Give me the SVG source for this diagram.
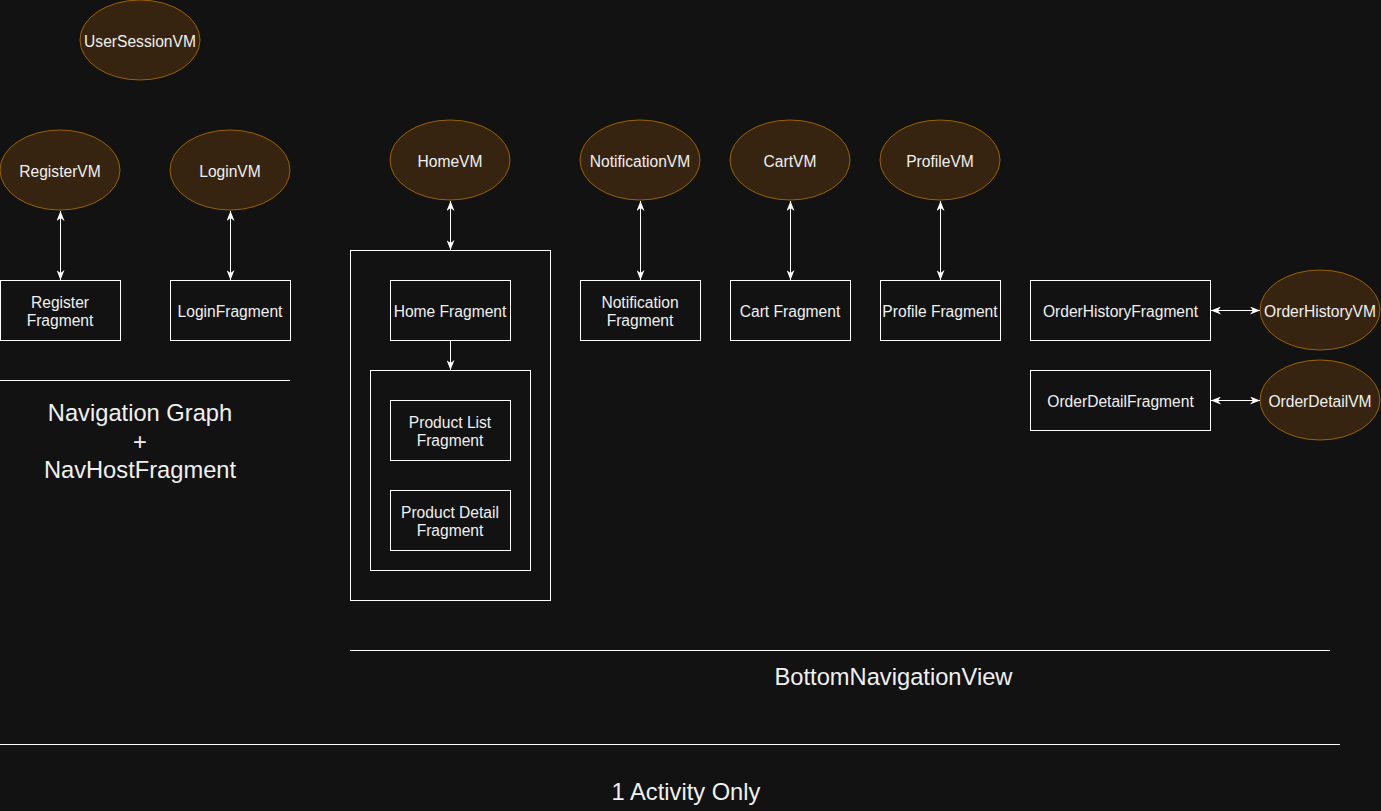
<svg xmlns="http://www.w3.org/2000/svg" width="1381" height="811" viewBox="0 0 1381 811">
<style>
.vm{fill:#362410;stroke:#9a6200;stroke-width:1}
.box{fill:#121212;stroke:#ffffff;stroke-width:1}
.t{font-family:"Liberation Sans",Arial,sans-serif;font-size:15.6px;fill:#f0f0f0;text-anchor:middle}
.big{font-family:"Liberation Sans",Arial,sans-serif;font-size:23.7px;fill:#f0f0f0;text-anchor:middle}
.sep{stroke:#ffffff;stroke-width:1}
.c{stroke:#ffffff;stroke-width:1;fill:none}
</style>
<defs>
<marker id="arr" viewBox="0 0 10 8" refX="10" refY="4" markerWidth="10" markerHeight="8" markerUnits="userSpaceOnUse" orient="auto-start-reverse">
<path d="M0,0 L10,4 L0,8 L3,4 z" fill="#ffffff"/>
</marker>
</defs>
<rect x="0" y="0" width="1381" height="811" fill="#121212"/>

<g id="containers">
<rect id="homeOuter" class="box" x="350.5" y="250.5" width="200" height="350"/>
<rect id="homeInner" class="box" x="370.5" y="370.5" width="160" height="200"/>
</g>

<g id="n-usersession"><ellipse class="vm" cx="140" cy="40" rx="60" ry="40"/><text class="t" x="140" y="47">UserSessionVM</text></g>
<g id="n-registervm"><ellipse class="vm" cx="60" cy="170" rx="60" ry="40"/><text class="t" x="60" y="177">RegisterVM</text></g>
<g id="n-loginvm"><ellipse class="vm" cx="230" cy="170" rx="60" ry="40"/><text class="t" x="230" y="177">LoginVM</text></g>
<g id="n-homevm"><ellipse class="vm" cx="450" cy="160" rx="60" ry="40"/><text class="t" x="450" y="167">HomeVM</text></g>
<g id="n-notifvm"><ellipse class="vm" cx="640" cy="160" rx="60" ry="40"/><text class="t" x="640" y="167">NotificationVM</text></g>
<g id="n-cartvm"><ellipse class="vm" cx="790" cy="160" rx="60" ry="40"/><text class="t" x="790" y="167">CartVM</text></g>
<g id="n-profilevm"><ellipse class="vm" cx="940" cy="160" rx="60" ry="40"/><text class="t" x="940" y="167">ProfileVM</text></g>
<g id="n-ohvm"><ellipse class="vm" cx="1320" cy="310" rx="60" ry="40"/><text class="t" x="1320" y="317">OrderHistoryVM</text></g>
<g id="n-odvm"><ellipse class="vm" cx="1320" cy="400" rx="60" ry="40"/><text class="t" x="1320" y="407">OrderDetailVM</text></g>

<g id="n-registerfrag"><rect class="box" x="0.5" y="280.5" width="120" height="60"/><text class="t" x="60" y="307.5">Register</text><text class="t" x="60" y="326">Fragment</text></g>
<g id="n-loginfrag"><rect class="box" x="170.5" y="280.5" width="120" height="60"/><text class="t" x="230" y="317">LoginFragment</text></g>
<g id="n-homefrag"><rect class="box" x="390.5" y="280.5" width="120" height="60"/><text class="t" x="450" y="317">Home Fragment</text></g>
<g id="n-plist"><rect class="box" x="390.5" y="400.5" width="120" height="60"/><text class="t" x="450" y="427.5">Product List</text><text class="t" x="450" y="446">Fragment</text></g>
<g id="n-pdetail"><rect class="box" x="390.5" y="490.5" width="120" height="60"/><text class="t" x="450" y="517.5">Product Detail</text><text class="t" x="450" y="536">Fragment</text></g>
<g id="n-notiffrag"><rect class="box" x="580.5" y="280.5" width="120" height="60"/><text class="t" x="640" y="307.5">Notification</text><text class="t" x="640" y="326">Fragment</text></g>
<g id="n-cartfrag"><rect class="box" x="730.5" y="280.5" width="120" height="60"/><text class="t" x="790" y="317">Cart Fragment</text></g>
<g id="n-profilefrag"><rect class="box" x="880.5" y="280.5" width="120" height="60"/><text class="t" x="940" y="317">Profile Fragment</text></g>
<g id="n-ohfrag"><rect class="box" x="1030.5" y="280.5" width="180" height="60"/><text class="t" x="1120.5" y="317">OrderHistoryFragment</text></g>
<g id="n-odfrag"><rect class="box" x="1030.5" y="370.5" width="180" height="60"/><text class="t" x="1120.5" y="407">OrderDetailFragment</text></g>

<g id="connectors">
<line class="c" x1="60.5" y1="211" x2="60.5" y2="280" marker-start="url(#arr)" marker-end="url(#arr)"/>
<line class="c" x1="230.5" y1="211" x2="230.5" y2="280" marker-start="url(#arr)" marker-end="url(#arr)"/>
<line class="c" x1="450.5" y1="201" x2="450.5" y2="250" marker-start="url(#arr)" marker-end="url(#arr)"/>
<line class="c" x1="640.5" y1="201" x2="640.5" y2="280" marker-start="url(#arr)" marker-end="url(#arr)"/>
<line class="c" x1="790.5" y1="201" x2="790.5" y2="280" marker-start="url(#arr)" marker-end="url(#arr)"/>
<line class="c" x1="940.5" y1="201" x2="940.5" y2="280" marker-start="url(#arr)" marker-end="url(#arr)"/>
<line class="c" x1="450.5" y1="341" x2="450.5" y2="370" marker-end="url(#arr)"/>
<line class="c" x1="1211" y1="310.5" x2="1260" y2="310.5" marker-start="url(#arr)" marker-end="url(#arr)"/>
<line class="c" x1="1211" y1="400.5" x2="1260" y2="400.5" marker-start="url(#arr)" marker-end="url(#arr)"/>
</g>

<g id="labels">
<line class="sep" x1="0" y1="380.5" x2="290" y2="380.5"/>
<text class="big" x="140" y="421">Navigation Graph</text>
<text class="big" x="140" y="449.5">+</text>
<text class="big" x="140" y="478">NavHostFragment</text>
<line class="sep" x1="350" y1="650.5" x2="1330" y2="650.5"/>
<text class="big" x="893.5" y="685">BottomNavigationView</text>
<line class="sep" x1="0" y1="744.5" x2="1340" y2="744.5"/>
<text class="big" x="686" y="800">1 Activity Only</text>
</g>
</svg>
